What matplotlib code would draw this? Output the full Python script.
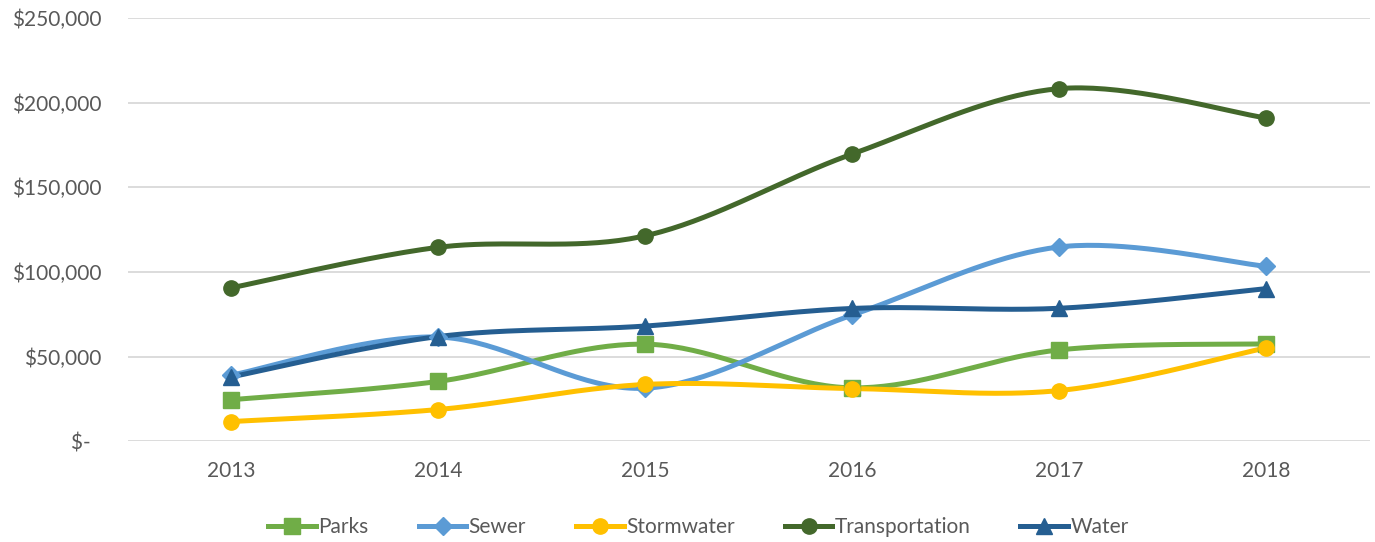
import numpy as np
import matplotlib
matplotlib.use("Agg")
import matplotlib.pyplot as plt
from matplotlib.ticker import FuncFormatter

years = ["2013", "2014", "2015", "2016", "2017", "2018"]
parks = [24500, 35300, 57300, 31500, 53900, 57500]
sewer = [39000, 61500, 31300, 74500, 114700, 103300]
stormwater = [11600, 18700, 33500, 31100, 29900, 55100]
transportation = [90600, 114500, 121300, 169600, 208200, 190900]
water = [38000, 61800, 68000, 78400, 78500, 90100]

series = [
    ("Parks", parks, "#70AD47", "s"),
    ("Sewer", sewer, "#5B9BD5", "D"),
    ("Stormwater", stormwater, "#FFC000", "o"),
    ("Transportation", transportation, "#43682B", "o"),
    ("Water", water, "#255E91", "^"),
]

plt.rcParams['font.family'] = ['Lato', 'DejaVu Sans']


def smooth(xs, ys, n=40):
    xs = np.asarray(xs, float)
    ys = np.asarray(ys, float)
    px = np.concatenate([[xs[0]], xs, [xs[-1]]])
    py = np.concatenate([[ys[0]], ys, [ys[-1]]])
    ox, oy = [], []
    t = np.linspace(0, 1, n)
    for i in range(1, len(px) - 2):
        p0 = np.array([px[i], py[i]])
        p3 = np.array([px[i + 1], py[i + 1]])
        p1 = p0 + (np.array([px[i + 1], py[i + 1]]) - np.array([px[i - 1], py[i - 1]])) / 6
        p2 = p3 - (np.array([px[i + 2], py[i + 2]]) - np.array([px[i], py[i]])) / 6
        b = ((1 - t) ** 3)[:, None] * p0 + (3 * (1 - t) ** 2 * t)[:, None] * p1 + \
            (3 * (1 - t) * t ** 2)[:, None] * p2 + (t ** 3)[:, None] * p3
        ox.extend(b[:, 0]); oy.extend(b[:, 1])
    return ox, oy


fig = plt.figure(figsize=(13.75, 5.42), dpi=100)
ax = fig.add_axes([0.093, 0.186, 0.903, 0.781])

x = np.arange(len(years))
handles = []
for name, vals, color, mk in series:
    sx, sy = smooth(x, vals)
    ax.plot(sx, sy, color=color, lw=3.6, solid_capstyle='round', zorder=3)
    ms = 11 if mk != "D" else 9
    ax.plot(x, vals, linestyle='none', marker=mk, color=color, ms=ms, zorder=4)
    h, = ax.plot([], [], color=color, lw=3.6, marker=mk, ms=ms)
    handles.append((h, name))

ax.set_xlim(-0.5, len(years) - 0.5)
ax.set_ylim(0, 250000)
ax.set_yticks(np.arange(0, 250001, 50000))
ax.yaxis.set_major_formatter(FuncFormatter(lambda v, p: "$-  " if v == 0 else "${:,.0f}".format(v)))
ax.set_xticks(x)
ax.set_xticklabels(years)
ax.grid(axis='y', color='#D9D9D9', lw=1.3)
ax.set_axisbelow(True)
for s in ax.spines.values():
    s.set_visible(False)
ax.tick_params(length=0, labelsize=15, colors='#595959', pad=14)
ax.tick_params(axis='y', pad=19)

fig.legend([h for h, _ in handles], [n for _, n in handles], loc='lower center',
           bbox_to_anchor=(0.508, -0.025), ncol=5, frameon=False, fontsize=15,
           labelcolor='#595959', handlelength=2.3, columnspacing=2.4, handletextpad=0.1)

fig.savefig("out.png", dpi=100)
